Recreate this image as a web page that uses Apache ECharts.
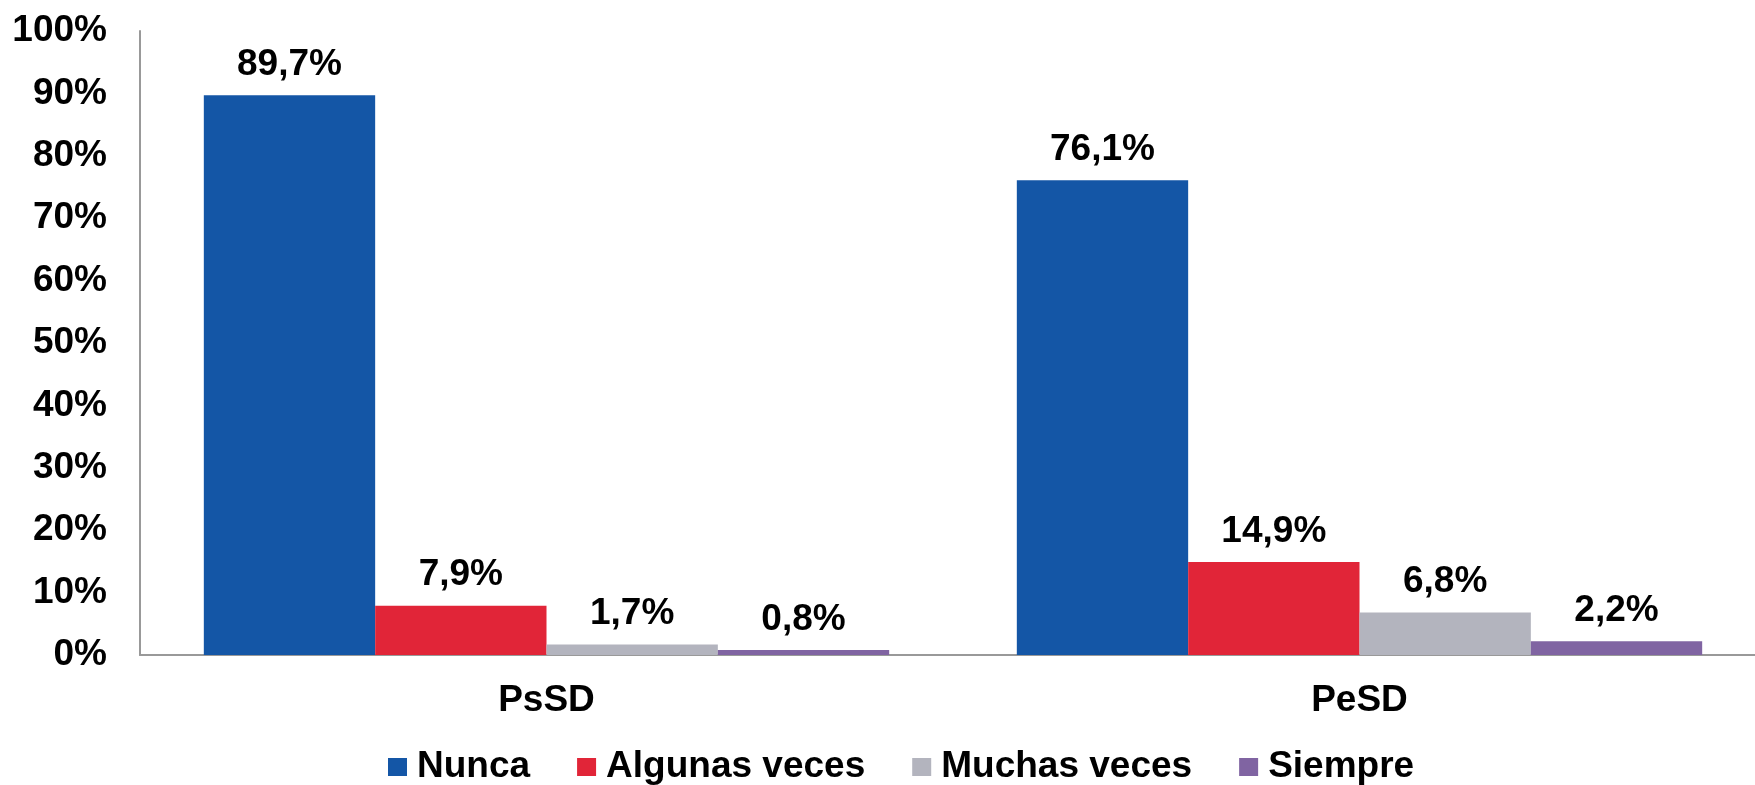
<!DOCTYPE html>
<html>
<head>
<meta charset="utf-8">
<title>Frecuencia PsSD / PeSD</title>
<script src="https://cdn.jsdelivr.net/npm/echarts@6/dist/echarts.min.js"></script>
<style>
  html, body { margin: 0; padding: 0; background: #fff; }
  #chart { width: 1755px; height: 785px; }
</style>
</head>
<body>
<div id="chart"></div>
<script>
// categorias y valores (%)
const categories = ['PsSD', 'PeSD'];
const seriesNames = ['Nunca', 'Algunas veces', 'Muchas veces', 'Siempre'];
const nunca = [89.7, 76.1];
const algunas = [7.9, 14.9];
const muchas = [1.7, 6.8];
const siempre = [0.8, 2.2];
const yTicks = [0, 10, 20, 30, 40, 50, 60, 70, 80, 90, 100];

const COLORS = ['#1456A6', '#E12538', '#B3B4BE', '#8064A2'];
const FONT = '"Liberation Sans", Arial, sans-serif';

const values = [nunca, algunas, muchas, siempre];

const chart = echarts.init(document.getElementById('chart'));

chart.setOption({
  animation: false,
  textStyle: { fontFamily: FONT },
  // el eje x sigue mas alla del borde derecho, como en el original
  grid: { left: 140, top: 31, width: 1626, height: 624, outerBoundsMode: 'none' },
  legend: {
    data: seriesNames,
    left: 383,
    top: 743,
    itemWidth: 19,
    itemHeight: 18,
    itemGap: 47,
    icon: 'rect',
    textStyle: {
      fontFamily: FONT, fontSize: 37, fontWeight: 'bold', color: '#000',
      lineHeight: 38, padding: [0, 0, 0, 5]
    }
  },
  xAxis: {
    type: 'category',
    data: categories,
    axisLine: { lineStyle: { color: '#999', width: 2 } },
    axisTick: { show: false },
    axisLabel: {
      margin: 27, fontFamily: FONT, fontSize: 37, fontWeight: 'bold', color: '#000'
    }
  },
  yAxis: {
    type: 'value',
    min: yTicks[0],
    max: yTicks[yTicks.length - 1],
    interval: 10,
    axisLine: { show: true, lineStyle: { color: '#999', width: 2 } },
    axisTick: { show: false },
    splitLine: { show: false },
    axisLabel: {
      margin: 33, fontFamily: FONT, fontSize: 37, fontWeight: 'bold', color: '#000',
      formatter: '{value}%'
    }
  },
  series: seriesNames.map((name, i) => ({
    name: name,
    type: 'bar',
    data: values[i],
    barGap: '0%',
    barCategoryGap: '15.7%',
    itemStyle: { color: COLORS[i] },
    label: {
      show: true,
      position: 'top',
      distance: 12,
      fontFamily: FONT,
      fontSize: 37,
      fontWeight: 'bold',
      color: '#000',
      formatter: p => p.value.toFixed(1).replace('.', ',') + '%'
    }
  }))
});
</script>
</body>
</html>
